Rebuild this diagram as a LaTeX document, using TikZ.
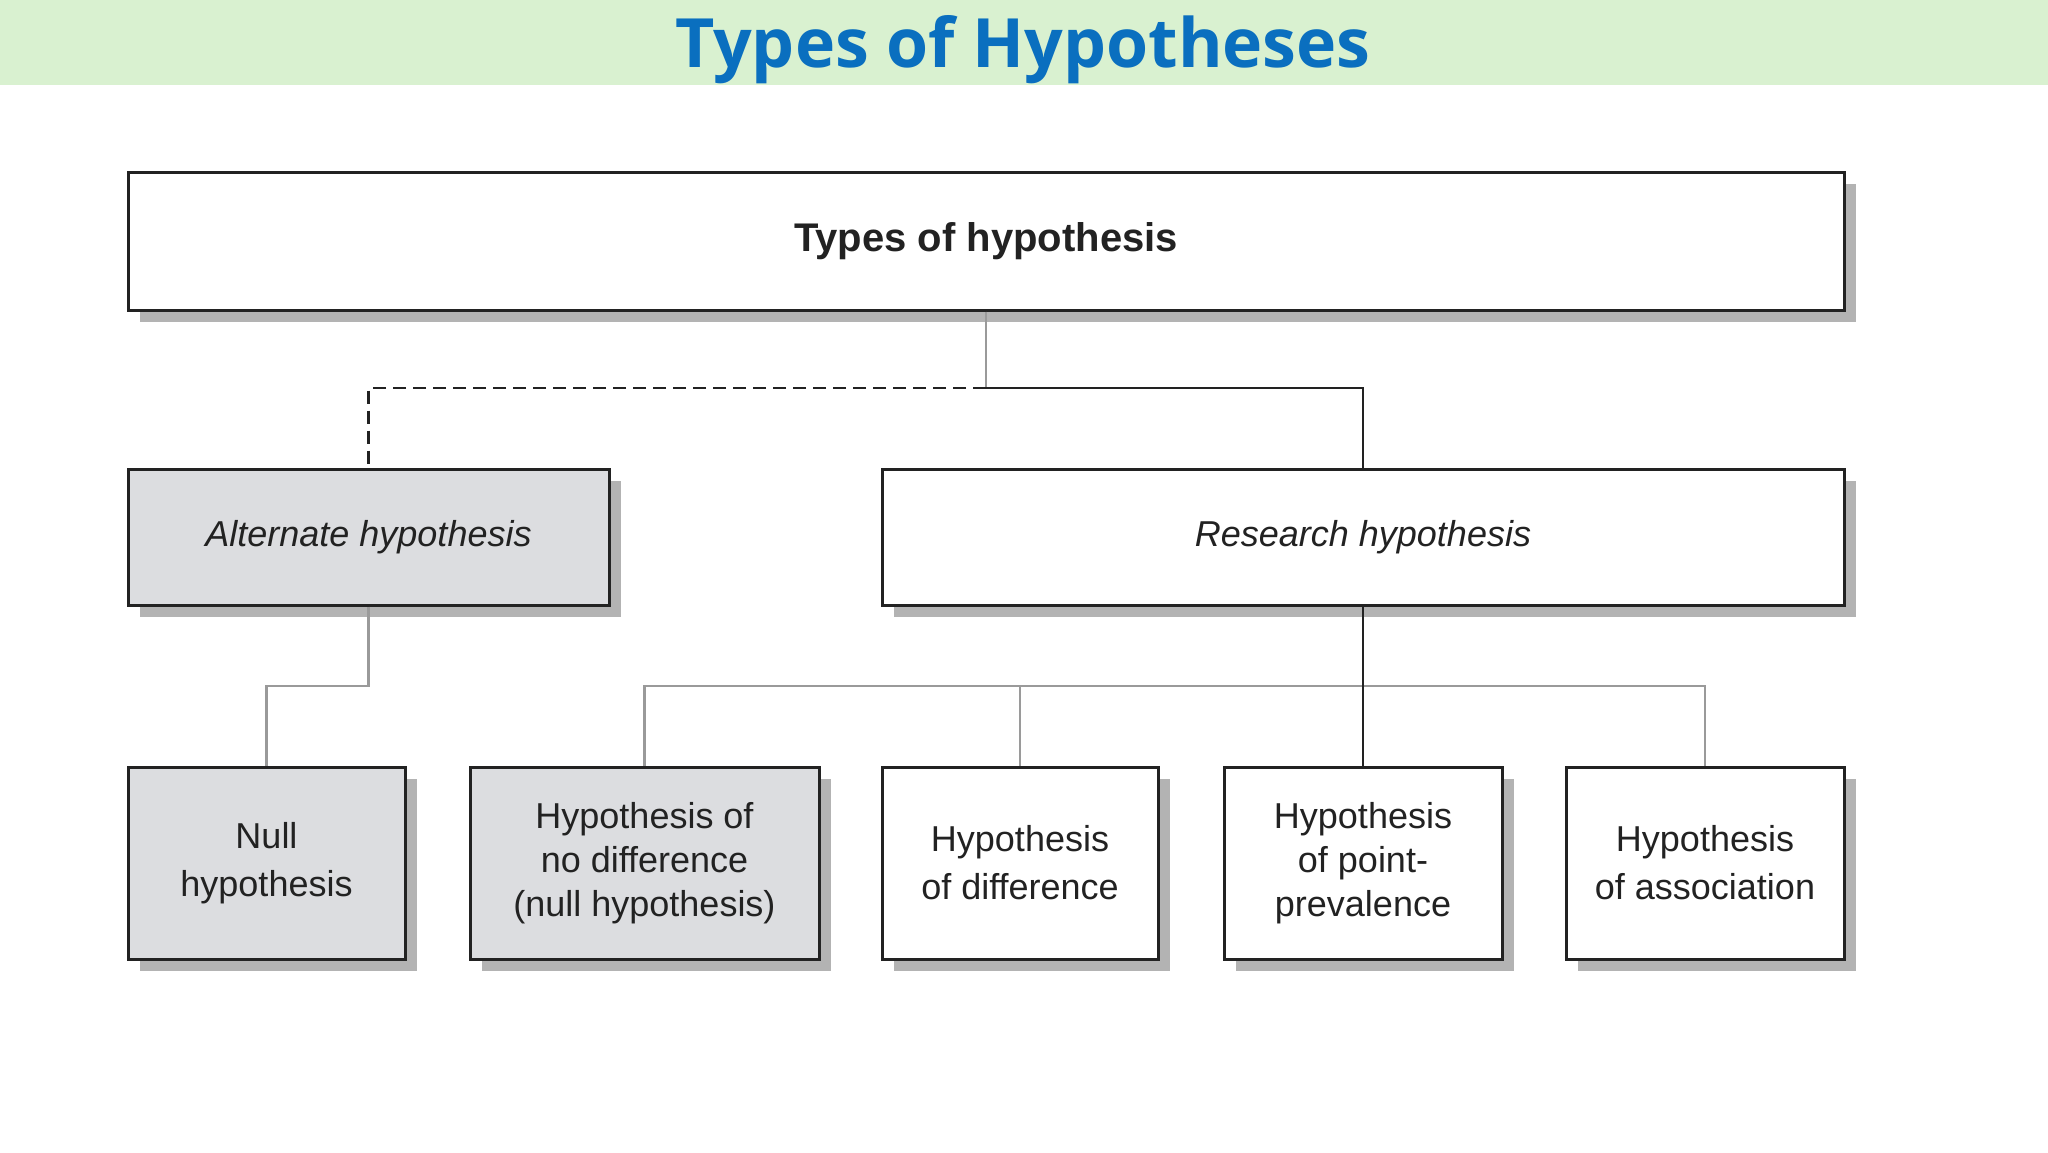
\documentclass[tikz,border=0pt]{standalone}
\usepackage{fontspec}
\setmainfont{Liberation Sans}
\newfontfamily\titlefont{Open Sans}
\usetikzlibrary{shadows}
\definecolor{band}{HTML}{D9F1D0}
\definecolor{titleblue}{HTML}{0A6FBF}
\definecolor{boxgrey}{HTML}{DCDDE0}
\definecolor{shadowgrey}{HTML}{B3B3B3}
\definecolor{linegrey}{HTML}{9A9A9A}
\definecolor{ink}{HTML}{222222}
\tikzset{
  hbox/.style={draw=ink, line width=3pt, fill=white, rectangle, inner sep=0pt, align=center,
    text=ink, font=\fontsize{36}{48}\selectfont,
    drop shadow={shadow xshift=12pt, shadow yshift=-12pt, fill=shadowgrey, opacity=1}},
  greybox/.style={hbox, fill=boxgrey},
  greyline/.style={draw=linegrey, line width=2.5pt},
  blackline/.style={draw=ink, line width=2.5pt},
  dashline/.style={draw=ink, line width=2.5pt, dash pattern=on 13pt off 7pt}
}
\begin{document}
\begin{tikzpicture}[x=1pt,y=-1pt]
\useasboundingbox (0,0) rectangle (2048,1152);
\fill[white] (0,0) rectangle (2048,1152);
\fill[band] (0,0) rectangle (2048,85);
\node[anchor=base, inner sep=0pt, text=titleblue, font=\titlefont\bfseries\fontsize{68}{80}\selectfont] (title) at (1023,67) {Types of Hypotheses};

% boxes
\node[hbox, minimum width=1716pt, minimum height=138pt, font=\bfseries\fontsize{40}{48}\selectfont] (top) at (986,241) {Types of hypothesis};
\node[greybox, minimum width=481pt, minimum height=136pt, font=\itshape\fontsize{36}{48}\selectfont] (alt) at (368.5,537) {Alternate hypothesis};
\node[hbox, minimum width=962pt, minimum height=136pt, font=\itshape\fontsize{36}{48}\selectfont] (res) at (1363,537) {Research hypothesis};

\node[greybox, minimum width=277pt, minimum height=192pt] (null) at (266.5,863) {Null\\hypothesis};
\node[greybox, minimum width=349pt, minimum height=192pt, font=\fontsize{36}{44}\selectfont] (nodiff) at (644.5,863) {Hypothesis of\\no difference\\(null hypothesis)};
\node[hbox, minimum width=276pt, minimum height=192pt] (diff) at (1020,863) {Hypothesis\\of difference};
\node[hbox, minimum width=278pt, minimum height=192pt, font=\fontsize{36}{44}\selectfont] (point) at (1363,863) {Hypothesis\\of point-\\prevalence};
\node[hbox, minimum width=278pt, minimum height=192pt] (assoc) at (1705,863) {Hypothesis\\of association};

% connectors
\coordinate (j1) at (986,388);
\coordinate (h) at (0,686);
\draw[greyline] (top.south) -- (j1);
\draw[dashline] (j1) -| (alt.north);
\draw[blackline] (j1) -| (res.north);
\draw[greyline] (alt.south) -- (alt.south |- h) -| (null.north);
\draw[greyline] (nodiff.north) -- (nodiff.north |- h) -- (assoc.north |- h) -- (assoc.north);
\draw[greyline] (diff.north) -- (diff.north |- h);
\draw[blackline] (res.south) -- (point.north);
\end{tikzpicture}
\end{document}
